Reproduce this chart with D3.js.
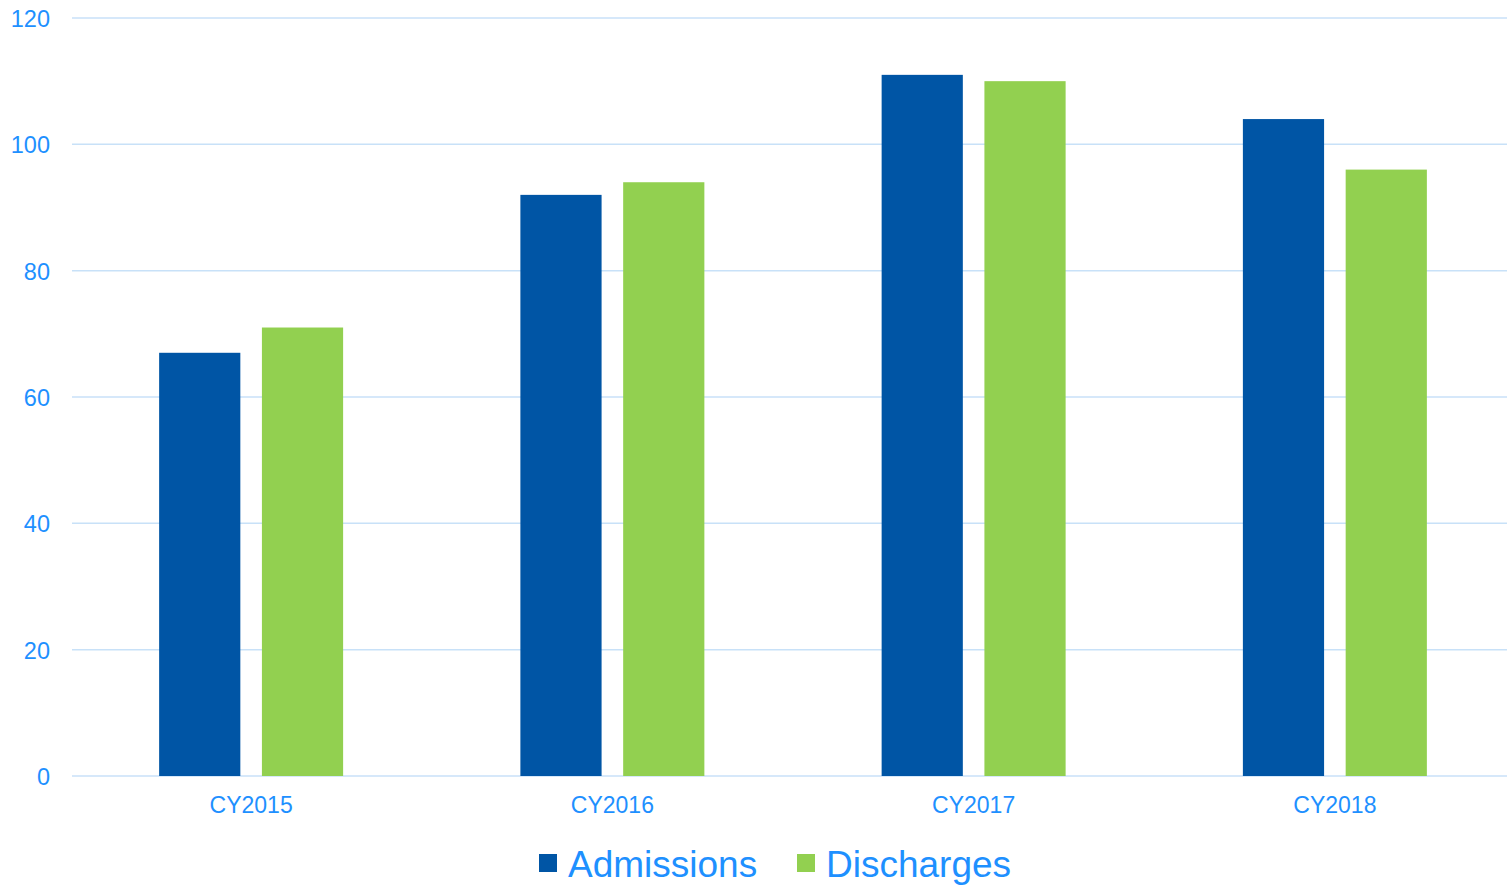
<!DOCTYPE html>
<html>
<head>
<meta charset="utf-8">
<script src="https://cdn.jsdelivr.net/npm/d3@7"></script>
<style>
  html, body { margin: 0; padding: 0; background: #fff; }
  svg { display: block; font-family: "Liberation Sans", Arial, sans-serif; }
</style>
</head>
<body>
<svg id="chart" width="1507" height="886"></svg>
<script>
// Yearly admissions and discharges
const categories = ["CY2015", "CY2016", "CY2017", "CY2018"];
const seriesNames = ["Admissions", "Discharges"];
const admissions = [67, 92, 111, 104];
const discharges = [71, 94, 110, 96];
const yTicks = [0, 20, 40, 60, 80, 100, 120];

const seriesValues = [admissions, discharges];
const colors = ["#0055A5", "#92D050"];
const textColor = "#1E90FF";
const gridColor = "#C8E1F8";

const svg = d3.select("#chart");
const plot = { left: 72, right: 1507, top: 18, bottom: 776 };

const y = d3.scaleLinear().domain([0, 120]).range([plot.bottom, plot.top]);
const x0 = d3.scaleBand().domain(categories).range([70.5, 1515.5])
  .paddingInner(0.4907).paddingOuter(0.4907 / 2);
const x1 = d3.scaleBand().domain(seriesNames).range([0, x0.bandwidth()]).paddingInner(0.21);

// Horizontal gridlines
svg.append("g")
  .selectAll("line")
  .data(yTicks)
  .join("line")
  .attr("x1", plot.left).attr("x2", plot.right)
  .attr("y1", d => y(d)).attr("y2", d => y(d))
  .attr("stroke", gridColor).attr("stroke-width", 1.5);

// Y axis labels
const yAxis = d3.axisLeft(y).tickValues(yTicks).tickSize(0).tickPadding(0);
const yg = svg.append("g").attr("transform", "translate(50,0)").call(yAxis);
yg.select(".domain").remove();
yg.selectAll("text")
  .attr("fill", textColor)
  .style("font-size", "23.5px")
  .attr("dy", "0.36em");

// Bars
const groups = svg.append("g")
  .selectAll("g")
  .data(categories)
  .join("g")
  .attr("transform", d => `translate(${x0(d)},0)`);

groups.selectAll("rect")
  .data((c, i) => seriesNames.map((s, j) => ({ s, v: seriesValues[j][i], j })))
  .join("rect")
  .attr("x", d => x1(d.s))
  .attr("width", x1.bandwidth())
  .attr("y", d => y(d.v))
  .attr("height", d => y(0) - y(d.v))
  .attr("fill", d => colors[d.j]);

// X axis labels
const xAxis = d3.axisBottom(x0).tickSize(0).tickPadding(0);
const xg = svg.append("g").attr("transform", "translate(0,797)").call(xAxis);
xg.select(".domain").remove();
xg.selectAll("text")
  .attr("fill", textColor)
  .style("font-size", "23px")
  .attr("dy", "0.71em");

// Legend
const legendItems = [
  { name: "Admissions", color: colors[0], x: 539 },
  { name: "Discharges", color: colors[1], x: 797 }
];
const lg = svg.append("g");
legendItems.forEach(item => {
  lg.append("rect")
    .attr("x", item.x).attr("y", 854)
    .attr("width", 18).attr("height", 18)
    .attr("fill", item.color);
  lg.append("text")
    .attr("x", item.x + 29).attr("y", 877)
    .attr("fill", textColor)
    .style("font-size", "37px")
    .text(item.name);
});
</script>
</body>
</html>
